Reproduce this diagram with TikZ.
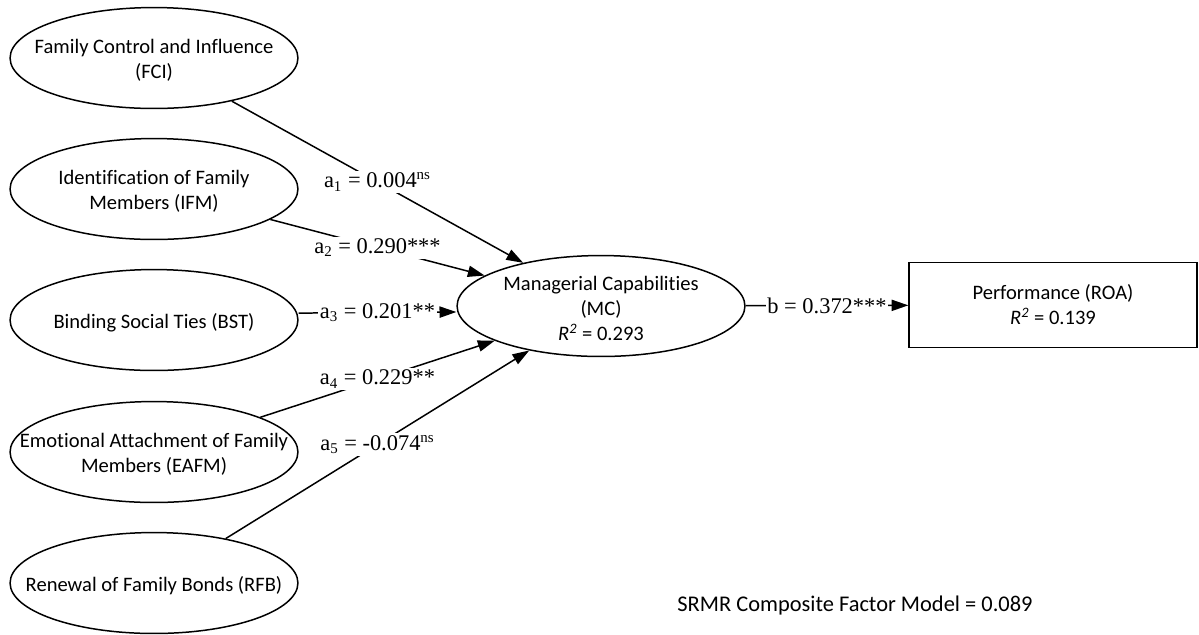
\documentclass[tikz,border=0pt]{standalone}
\usepackage{fontspec}
\setmainfont[Ligatures=NoCommon]{Carlito}
\newfontfamily\timesfont{Liberation Serif}
\usetikzlibrary{shapes.geometric,arrows.meta}
\newcommand{\rsq}{\textit{R}\textsuperscript{\textit{2}}}

\tikzset{
lat/.style={draw, ellipse, line width=0.8pt, minimum width=154pt, minimum height=54pt, inner sep=0pt},
txt/.style={align=center, font=\fontsize{11}{13.4}\selectfont},
intxt/.style={txt, yshift=-1.3pt},
obs/.style={draw, rectangle, line width=0.8pt, minimum width=154pt, minimum height=45.5pt, txt},
link/.style={line width=0.8pt, -{Triangle[length=9pt,width=6pt]}},
coef/.style={fill=white, inner sep=1pt, font=\timesfont\fontsize{12}{14}\selectfont},
}

\begin{document}
\begin{tikzpicture}[x=0.535pt, y=-0.535pt]
\useasboundingbox (0,0) rectangle (1199,634);

\node[lat, label={[intxt]center:Family Control and Influence\\(FCI)}] (FCI) at (154,58) {};
\node[lat, label={[intxt]center:Identification of Family\\Members (IFM)}] (IFM) at (154,189) {};
\node[lat, label={[intxt]center:Binding Social Ties (BST)}] (BST) at (154,320) {};
\node[lat, label={[intxt]center:Emotional Attachment of Family\\Members (EAFM)}] (EAFM) at (154,452) {};
\node[lat, label={[intxt]center:Renewal of Family Bonds (RFB)}] (RFB) at (154,583) {};

\node[lat, label={[intxt]center:Managerial Capabilities\\(MC)\\\rsq{} = 0.293}] (MC) at (601,306) {};
\node[obs] (ROA) at (1053,305) {Performance (ROA)\\\rsq{} = 0.139};

\draw[link] (FCI) -- (MC) node[midway, coef] (a1) {a\textsubscript{1} = 0.004\textsuperscript{ns}};
\draw[link] (IFM) -- (MC) node[midway, coef] (a2) {a\textsubscript{2} = 0.290***};
\draw[link] ([yshift=3.7pt]BST.east) -- ([yshift=-3.2pt]MC.west) node[midway, coef] (a3) {a\textsubscript{3} = 0.201**};
\draw[link] (EAFM) -- (MC) node[midway, coef] (a4) {a\textsubscript{4} = 0.229**};
\draw[link] (RFB) -- (MC) node[midway, coef] (a5) {a\textsubscript{5} = -0.074\textsuperscript{ns}};
\draw[link] (MC) -- (ROA) node[midway, coef] (b) {b = 0.372***};

\node[txt, font=\fontsize{12}{14}\selectfont] (srmr) at (855,606) {SRMR Composite Factor Model = 0.089};
\end{tikzpicture}
\end{document}
